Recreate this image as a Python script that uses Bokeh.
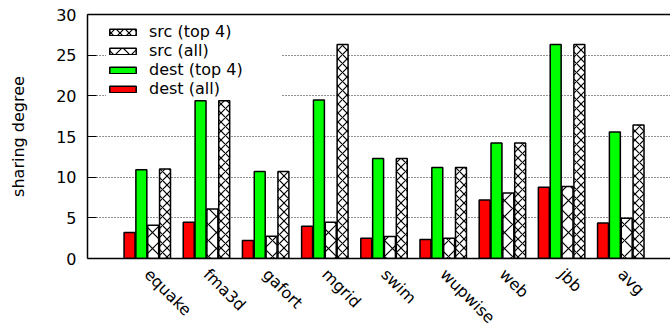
import numpy as np
from bokeh.plotting import figure
from bokeh.layouts import column
from bokeh.models import Range1d, FixedTicker, LinearAxis, Legend, LegendItem
from bokeh.core.properties import value
from bokeh.embed import file_html
from bokeh.resources import INLINE

# Sharing degree per benchmark
benchmarks = ["equake", "fma3d", "gafort", "mgrid", "swim", "wupwise", "web", "jbb", "avg"]
dest_all = [3.2, 4.45, 2.2, 3.95, 2.5, 2.35, 7.2, 8.75, 4.35]
dest_top4 = [10.9, 19.4, 10.7, 19.5, 12.3, 11.2, 14.2, 26.3, 15.55]
src_all = [4.1, 6.1, 2.75, 4.45, 2.7, 2.5, 8.05, 8.85, 4.95]
src_top4 = [11.0, 19.4, 10.7, 26.3, 12.3, 11.2, 14.2, 26.3, 16.4]
y_ticks = [0, 5, 10, 15, 20, 25, 30]

FONT = "DejaVu Sans"
FS = "16px"

idx = np.arange(len(benchmarks))
bar_w = 0.185
offsets = [-0.30, -0.10, 0.10, 0.30]
xr = Range1d(-1.01, 8.84)

p = figure(width=670, height=267,
           x_range=xr, y_range=Range1d(0, 30),
           output_backend="svg", toolbar_location=None,
           min_border_left=87, min_border_right=0,
           min_border_top=14, min_border_bottom=9,
           outline_line_color=None)

common = dict(width=bar_w, bottom=0, line_color="black", line_width=1.5)
r_dall = p.vbar(x=idx + offsets[0], top=dest_all, fill_color="#ff0000", **common)
r_dtop = p.vbar(x=idx + offsets[1], top=dest_top4, fill_color="#00ff00", **common)
r_sall = p.vbar(x=idx + offsets[2], top=src_all, fill_color="white",
                hatch_pattern="x", hatch_scale=16, hatch_weight=1.2,
                hatch_color="black", **common)
r_stop = p.vbar(x=idx + offsets[3], top=src_top4, fill_color="white",
                hatch_pattern="x", hatch_scale=9, hatch_weight=1.2,
                hatch_color="black", **common)

# x axis: line only; benchmark names go in the strip underneath
xa = p.xaxis[0]
xa.ticker = FixedTicker(ticks=[])
xa.major_tick_out = 0
xa.major_tick_in = 0
xa.major_label_standoff = 0
xa.major_tick_line_color = None
xa.minor_tick_line_color = None
xa.axis_line_width = 1.5
xa.axis_line_color = "black"

# y axis
ya = p.yaxis[0]
ya.ticker = FixedTicker(ticks=y_ticks)
ya.major_tick_in = 9
ya.major_tick_out = 0
ya.major_tick_line_color = "black"
ya.minor_tick_line_color = None
ya.major_label_standoff = 11
ya.major_label_text_font = FONT
ya.major_label_text_font_size = FS
ya.major_label_text_color = "black"
ya.axis_line_width = 1.5
ya.axis_line_color = "black"
ya.axis_label = "sharing degree"
ya.axis_label_text_font = FONT
ya.axis_label_text_font_size = FS
ya.axis_label_text_font_style = "normal"
ya.axis_label_text_color = "black"
ya.axis_label_standoff = 25

# top border line
top = LinearAxis(ticker=FixedTicker(ticks=[]), major_tick_line_color=None,
                 minor_tick_line_color=None,
                 axis_line_width=1.5, axis_line_color="black")
p.add_layout(top, "above")

# grid
p.xgrid.visible = False
p.ygrid.ticker = FixedTicker(ticks=[5, 10, 15, 20, 25])
p.ygrid.grid_line_dash = "1 2"
p.ygrid.grid_line_color = "#222222"
p.ygrid.grid_line_width = 1

legend = Legend(items=[
    LegendItem(label="src (top 4)", renderers=[r_stop]),
    LegendItem(label="src (all)", renderers=[r_sall]),
    LegendItem(label="dest (top 4)", renderers=[r_dtop]),
    LegendItem(label="dest (all)", renderers=[r_dall]),
], location=(19, 160))
legend.border_line_color = None
legend.background_fill_color = "white"
legend.background_fill_alpha = 1.0
legend.padding = 4
legend.margin = 0
legend.spacing = -1
legend.glyph_width = 33
legend.glyph_height = 8
legend.label_height = 18
legend.label_standoff = 10
legend.label_width = 133
legend.label_text_font = FONT
legend.label_text_font_size = FS
legend.label_text_color = "black"
p.add_layout(legend)

# transparent strip, pulled up slightly over the plot's bottom border, holding
# the rotated benchmark names (y in pixels below the strip's top edge)
s = figure(width=670, height=66, x_range=xr, y_range=Range1d(-66, 0),
           output_backend="svg", toolbar_location=None,
           min_border_left=87, min_border_right=0,
           min_border_top=0, min_border_bottom=0,
           x_axis_location=None, y_axis_location=None,
           outline_line_color=None,
           background_fill_color=None, border_fill_color=None)
s.margin = (-6, 0, 0, 0)
s.xgrid.visible = False
s.ygrid.visible = False
s.text(x=idx, y=np.full(len(idx), -10.0), text=benchmarks,
       angle=-np.pi / 4, text_align="left", text_baseline="middle",
       text_font=value(FONT), text_font_size=FS, text_color="black")

layout = column(p, s, spacing=0)
open("out.html", "w").write(file_html(layout, INLINE))
